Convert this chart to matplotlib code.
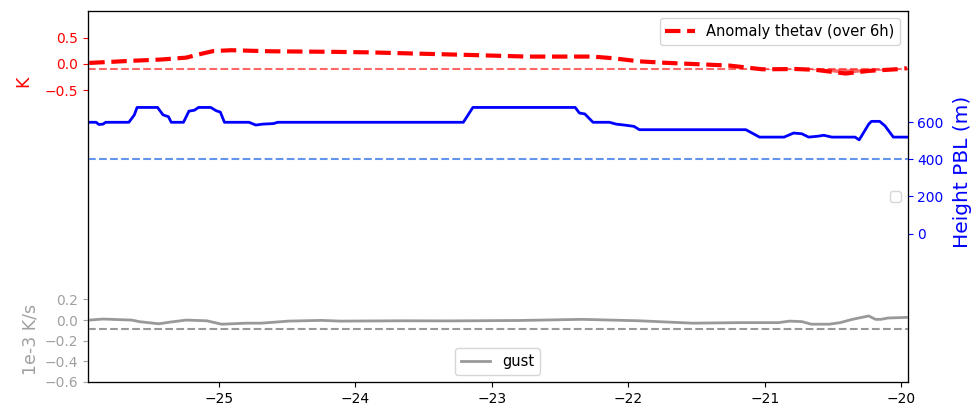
import numpy as np
import matplotlib
matplotlib.use("Agg")
import matplotlib.pyplot as plt

# anomaly thetav (K)
x_anom = [-25.95, -25.64, -25.42, -25.24, -25.15, -25.04, -24.91, -24.62, -24.18,
          -23.91, -23.23, -22.74, -22.26, -22.12, -21.92, -21.75, -21.26, -21.02,
          -20.77, -20.63, -20.41, -20.24, -20.04, -19.96]
anom = [0.02, 0.06, 0.085, 0.12, 0.18, 0.245, 0.26, 0.24, 0.23,
        0.22, 0.175, 0.14, 0.14, 0.11, 0.05, 0.025, -0.03, -0.10,
        -0.095, -0.11, -0.18, -0.13, -0.10, -0.08]
umbral_anom = -0.09

# altura PBL (m)
x_pbl = [-25.95, -25.90, -25.88, -25.85, -25.83, -25.66, -25.62, -25.60, -25.45,
         -25.41, -25.37, -25.35, -25.26, -25.22, -25.18, -25.15, -25.06, -25.02,
         -24.99, -24.96, -24.78, -24.73, -24.68, -24.60, -24.57, -23.21, -23.14,
         -22.39, -22.36, -22.32, -22.26, -22.14, -22.09, -22.03, -21.96, -21.92,
         -21.14, -21.04, -20.86, -20.79, -20.73, -20.68, -20.61, -20.57, -20.51,
         -20.34, -20.31, -20.24, -20.22, -20.16, -20.12, -20.06, -19.96]
pbl = [600, 600, 588, 590, 600, 600, 640, 680, 680,
       640, 630, 600, 600, 660, 665, 680, 680, 662,
       655, 600, 600, 585, 590, 593, 600, 600, 680,
       680, 650, 645, 600, 600, 590, 585, 578, 560,
       560, 520, 520, 542, 538, 520, 525, 530, 520,
       520, 505, 590, 605, 605, 580, 520, 520]
umbral_pbl = 400

# gust (1e-3 K/s)
x_gust = [-25.95, -25.85, -25.64, -25.58, -25.44, -25.36, -25.24, -25.09, -24.98,
          -24.80, -24.69, -24.49, -24.25, -24.11, -23.67, -23.31, -22.80, -22.34,
          -21.92, -21.53, -21.19, -20.90, -20.82, -20.73, -20.66, -20.53, -20.45,
          -20.36, -20.24, -20.19, -20.15, -20.10, -19.96]
gust = [0.0, 0.01, 0.0, -0.016, -0.036, -0.02, 0.0, -0.007, -0.04,
        -0.03, -0.03, -0.01, -0.003, -0.01, -0.007, -0.008, -0.004, 0.007,
        -0.007, -0.03, -0.025, -0.025, -0.01, -0.015, -0.04, -0.04, -0.025,
        0.007, 0.04, 0.007, 0.007, 0.02, 0.026]
umbral_gust = -0.09

fig = plt.figure(figsize=(9.77, 4.08), dpi=100)
ax = fig.add_axes([0.090, 0.064, 0.839, 0.909])

# --- eje K (rojo) ---
xa = np.array(x_anom)
ya = np.array(anom)
ax.plot(xa, ya, "--", color="red", lw=3, label="Anomaly thetav (over 6h)")
ax.axhline(umbral_anom, color="red", lw=1.5, ls="--", alpha=0.6)
ax.fill_between(xa, ya, umbral_anom, where=ya < umbral_anom, interpolate=True,
                color="red", alpha=0.6, lw=0)
ax.set_ylim(-6, 1)
ax.set_yticks([-0.5, 0.0, 0.5])
ax.tick_params(axis="y", colors="red")
ax.set_ylabel("K", color="red", fontsize=12.5, labelpad=9)
ax.yaxis.label.set_y(0.81)
ax.set_xlim(-25.96, -19.955)
ax.legend(loc="upper right", fontsize=10.5)

# --- eje PBL (azul) ---
ax2 = ax.twinx()
ax2.plot(x_pbl, pbl, color="blue", lw=2)
ax2.axhline(umbral_pbl, color="cornflowerblue", lw=1.5, ls="--")
ax2.set_ylim(-800, 1200)
ax2.set_yticks([0, 200, 400, 600])
ax2.tick_params(axis="y", colors="blue")
ax2.set_ylabel("Height PBL (m)", color="blue", fontsize=14.5, labelpad=7)
ax2.yaxis.label.set_y(0.565)
ax2.legend(handles=[], labels=[], loc="center right")

# --- eje gust (gris, a la izquierda) ---
ax3 = ax.twinx()
ax3.plot(x_gust, gust, color="#999999", lw=2, label="gust")
ax3.axhline(umbral_gust, color="#999999", lw=1.5, ls="--")
ax3.set_ylim(-0.6, 3.0)
ax3.set_yticks([-0.6, -0.4, -0.2, 0.0, 0.2])
ax3.yaxis.tick_left()
ax3.yaxis.set_label_position("left")
ax3.tick_params(axis="y", colors="#a0a0a0")
ax3.set_ylabel("1e-3 K/s", color="#a0a0a0", fontsize=12.5)
ax3.yaxis.label.set_y(0.115)
ax3.legend(loc="lower center", fontsize=10.5)

fig.savefig("out.png", dpi=100)
